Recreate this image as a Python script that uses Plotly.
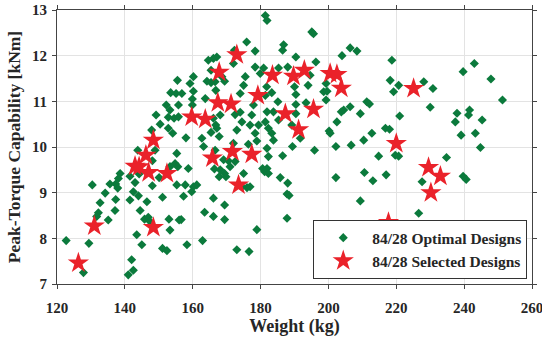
import plotly.graph_objects as go

# 84/28 Optimal Designs (green diamonds): weight (kg), peak torque (kNm)
opt_weight = [
    122.7, 127.8,
    155.5, 153.5, 155.1, 152.2, 155.8, 153.3, 149.2, 152.8, 154.5, 155.8, 150.4, 152.8, 154.1, 147.9,
    143.8, 148.9, 148.1, 155.3, 154.8, 153.3, 138.6, 138.1, 141.5, 144.2, 150.1, 143.0, 148.1, 155.3,
    130.4, 135.6, 137.3, 137.9, 134.2, 137.3, 132.7, 132.2, 131.7, 135.1, 137.1, 141.5, 142.5, 144.0,
    146.5, 151.1, 144.5, 145.8, 146.9, 147.4, 153.0, 156.0, 153.3, 143.5, 145.0, 151.1, 152.4, 142.0,
    142.5, 141.0, 129.4, 155.6,
    181.4, 181.9, 175.9, 178.4, 172.3, 167.1, 166.1, 164.6, 165.4, 172.0, 178.4, 180.9, 179.9, 175.5,
    175.0, 174.0, 169.4, 168.6, 164.2, 165.4, 166.8, 166.6, 160.2, 159.2, 160.2, 156.8, 159.9, 159.9,
    163.7, 181.8, 181.4, 177.9, 172.5, 174.0, 174.5, 173.0, 177.4, 176.9, 178.4, 179.4, 181.4, 182.3,
    168.1, 166.8, 167.1, 165.4, 167.8, 166.1, 158.0, 162.7, 163.2, 166.6, 172.0, 176.4, 178.9, 158.7,
    166.4, 168.1, 167.8, 169.4, 169.8, 169.1, 170.5, 172.5, 171.0, 175.0, 180.6, 181.2, 157.8, 159.7,
    160.2, 161.2, 157.3, 174.5, 176.0, 176.9, 166.1, 169.4, 163.5, 166.1, 169.4, 156.6, 178.9, 162.9,
    158.3, 173.0, 176.6,
    195.1, 195.6, 186.8, 186.5, 190.4, 196.3, 206.4, 208.4, 204.0, 185.3, 188.0, 194.6, 190.0, 194.0,
    199.3, 198.6, 199.6, 190.4, 183.3, 185.1, 193.4, 199.3, 190.4, 183.8, 181.9, 190.4, 185.3, 189.2,
    206.4, 204.5, 203.8, 202.5, 200.2, 200.5, 209.4, 183.3, 183.8, 181.9, 182.3, 186.5, 189.4, 191.7,
    195.9, 202.2, 206.7, 181.9, 182.3, 185.8, 188.0, 187.8, 188.4, 202.2, 187.8, 209.4,
    218.7, 218.2, 220.7, 219.2, 211.3, 212.1, 221.0, 216.8, 218.0, 212.8, 210.4,
    210.6, 213.1, 214.8, 217.0, 219.7, 220.7, 226.6, 215.8,
    228.1, 230.8, 230.0, 239.7, 243.0, 247.9, 251.3, 237.9, 237.4, 241.6, 241.3, 245.3, 239.1, 243.3, 244.8,
    234.8, 227.6, 239.7, 240.6,
]
opt_torque = [
    7.95, 7.25,
    11.46, 11.19, 11.17, 10.92, 10.92, 10.81, 10.70, 10.65, 10.63, 10.66, 10.50, 10.41, 10.30, 10.37,
    9.93, 9.93, 9.70, 9.86, 9.64, 9.57, 9.42, 9.31, 9.36, 9.41, 9.33, 9.22, 9.15, 9.17,
    9.17, 9.19, 9.19, 9.10, 8.99, 8.85, 8.78, 8.56, 8.48, 8.40, 8.61, 8.84, 9.02, 8.93,
    8.80, 8.90, 8.61, 8.42, 8.46, 8.37, 8.42, 8.40, 8.18, 8.08, 7.86, 7.78, 7.73, 7.53,
    7.30, 7.20, 7.89, 9.57,
    12.88, 12.77, 12.30, 12.10, 12.12, 11.97, 11.94, 11.90, 11.68, 11.83, 11.75, 11.73, 11.61, 11.54,
    11.35, 11.17, 11.44, 11.54, 11.44, 11.41, 11.24, 11.43, 11.54, 11.39, 11.22, 11.17, 11.05, 10.92,
    11.06, 11.32, 11.13, 10.92, 10.71, 10.76, 10.55, 10.37, 10.70, 10.48, 10.30, 10.48, 10.55, 10.41,
    10.70, 10.48, 10.41, 10.32, 10.23, 10.63, 10.20, 10.19, 10.01, 9.93, 10.08, 10.06, 10.13, 9.53,
    9.52, 9.50, 9.35, 9.42, 9.35, 9.72, 9.70, 9.68, 9.57, 9.42, 9.53, 9.46, 9.17, 9.02,
    9.13, 9.17, 8.92, 9.13, 9.11, 9.13, 8.88, 8.73, 8.57, 8.48, 8.41, 8.41, 8.19, 7.95,
    7.86, 7.75, 7.71,
    12.52, 12.48, 12.24, 12.12, 11.97, 11.86, 12.17, 12.10, 12.00, 11.73, 11.75, 11.57, 11.32, 11.35,
    11.39, 11.21, 11.22, 11.15, 11.19, 10.99, 10.97, 11.03, 10.93, 10.77, 10.77, 10.73, 10.59, 10.48,
    10.88, 10.81, 10.77, 10.55, 10.35, 10.30, 10.73, 10.30, 10.15, 9.97, 9.79, 9.81, 10.01, 10.19,
    9.93, 10.01, 10.04, 9.53, 9.42, 9.33, 9.21, 8.97, 8.94, 9.33, 8.44, 8.82,
    11.90, 11.46, 11.35, 11.21, 10.99, 10.94, 10.68, 10.41, 10.39, 10.30, 10.15,
    9.44, 9.26, 9.80, 9.39, 9.82, 9.80, 8.55, 8.00,
    11.43, 11.28, 10.87, 11.65, 11.83, 11.49, 11.03, 10.74, 10.55, 10.81, 10.70, 10.59, 10.26, 10.30, 9.99,
    9.77, 9.24, 9.36, 9.29,
]

# 84/28 Selected Designs (red stars)
sel_weight = [
    126.3, 131.0, 143.0, 144.2, 146.2, 147.0, 148.4, 148.4, 152.4, 159.7, 163.7, 165.8, 167.4, 167.8,
    171.3, 171.7, 173.0, 173.5, 177.4, 179.2, 183.5, 187.3, 189.7, 191.2, 192.9, 195.6, 200.5, 202.5,
    203.8, 217.7, 220.0, 225.1, 229.5, 230.2, 233.0,
]
sel_torque = [
    7.46, 8.27, 9.58, 9.57, 9.82, 9.44, 10.15, 8.24, 9.42, 10.66, 10.61, 9.76, 10.97, 11.64,
    10.94, 9.90, 12.02, 9.17, 9.84, 11.13, 11.57, 10.73, 11.55, 10.38, 11.68, 10.83, 11.61, 11.59,
    11.29, 8.35, 10.08, 11.28, 9.55, 9.00, 9.36,
]

x_ticks = [120, 140, 160, 180, 200, 220, 240, 260]
y_ticks = [7, 8, 9, 10, 11, 12, 13]

FONT = "Liberation Serif, Times New Roman, serif"
TXT = "#262626"

fig = go.Figure()
fig.add_trace(go.Scatter(
    x=opt_weight, y=opt_torque, mode="markers", name="84/28 Optimal Designs",
    marker=dict(symbol="diamond", size=7, color="#0b7a3c", line=dict(width=0)),
))
fig.add_trace(go.Scatter(
    x=sel_weight, y=sel_torque, mode="markers", name="84/28 Selected Designs",
    marker=dict(symbol="star", size=16, color="#ea222a", line=dict(width=0)),
))

axis_common = dict(
    showgrid=True, gridcolor="#e3e3e3", gridwidth=1,
    showline=True, linecolor="#444444", linewidth=1, mirror="ticks",
    ticks="outside", ticklen=4, tickcolor="#444444", zeroline=False,
    ticklabeloverflow="allow",
    tickfont=dict(family=FONT, size=15, color=TXT, weight="bold"),
)
fig.update_xaxes(
    range=[120, 260], tickvals=x_ticks, ticktext=[str(v) for v in x_ticks],
    ticklabelstandoff=6,
    title=dict(text="Weight (kg)", font=dict(family=FONT, size=18, color=TXT, weight="bold"), standoff=4),
    **axis_common,
)
fig.update_yaxes(
    range=[7, 13], tickvals=y_ticks, ticktext=[str(v) for v in y_ticks],
    ticklabelstandoff=2,
    title=dict(text="Peak-Torque Capability [kNm]", font=dict(family=FONT, size=17.5, color=TXT, weight="bold"), standoff=6),
    **axis_common,
)
fig.update_layout(
    width=542, height=344,
    margin=dict(l=57, r=10, t=10, b=60, autoexpand=False),
    paper_bgcolor="white", plot_bgcolor="white",
    showlegend=True,
    legend=dict(
        x=0.99, y=0.018, xanchor="right", yanchor="bottom",
        bgcolor="white", bordercolor="#333333", borderwidth=1,
        font=dict(family=FONT, size=15.5, color=TXT, weight="bold"),
        tracegroupgap=0, itemsizing="trace", itemwidth=48,
    ),
)
fig.write_html("out.html", config={"displayModeBar": False})

# remove the default page margin so the figure sits at the window's top-left corner
with open("out.html", "r", encoding="utf-8") as f:
    html = f.read()
html = html.replace("<head>", "<head><style>html,body{margin:0;padding:0;overflow:hidden;}</style>", 1)
with open("out.html", "w", encoding="utf-8") as f:
    f.write(html)
